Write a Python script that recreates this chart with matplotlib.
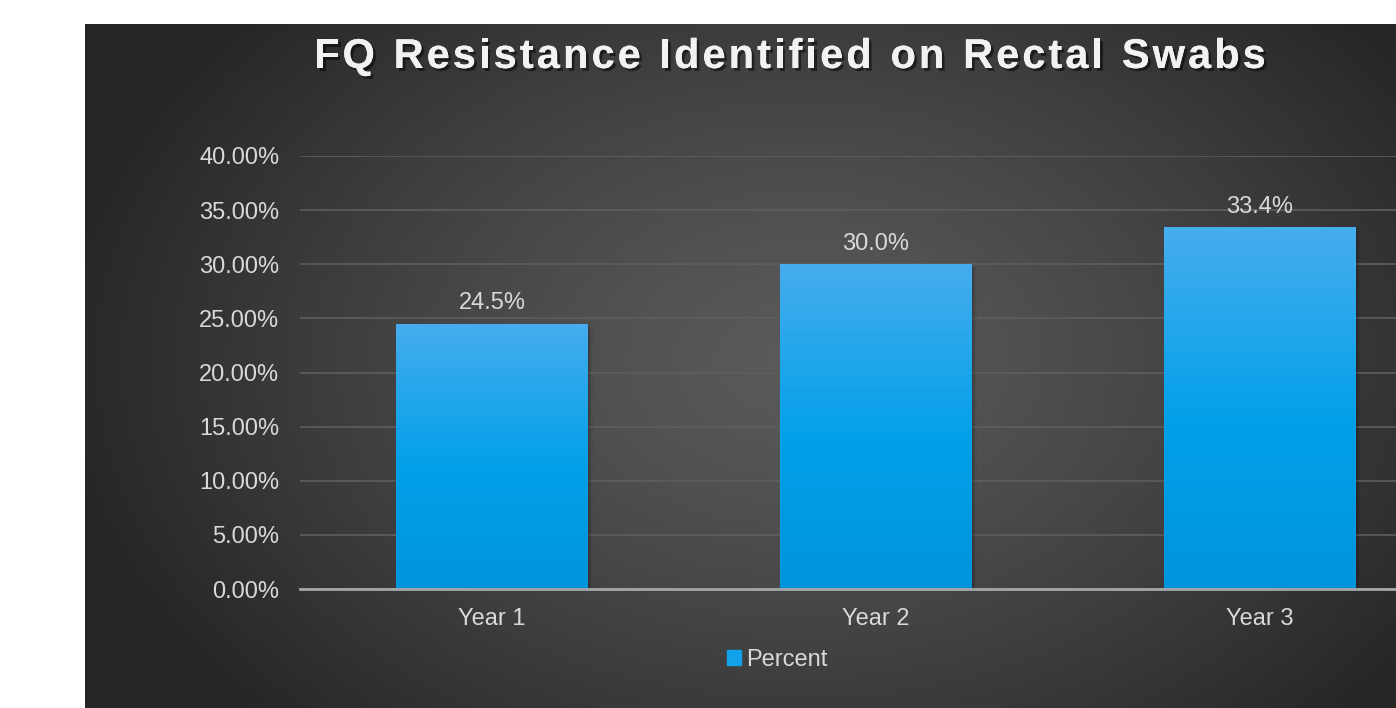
import numpy as np
import matplotlib.pyplot as plt
import matplotlib.patheffects as pe
from matplotlib.colors import LinearSegmentedColormap
from matplotlib.patches import Rectangle

# data
years = ['Year 1', 'Year 2', 'Year 3']
percent = [24.5, 30.0, 33.4]
yticks = [0, 5, 10, 15, 20, 25, 30, 35, 40]
title = 'FQ Resistance Identified on Rectal Swabs'

W, H = 1396, 708
fig = plt.figure(figsize=(W / 100, H / 100), dpi=100)
fig.patch.set_facecolor('white')
plt.rcParams['font.family'] = ['Liberation Sans', 'DejaVu Sans']

# dark panel with radial gradient
bg = fig.add_axes([85 / W, 0, (W - 85) / W, (H - 24) / H])
bg.set_axis_off()
xx, yy = np.meshgrid(np.linspace(85, 1496, 400), np.linspace(24, 708, 200))
r = np.sqrt(((xx - 800) / 750) ** 2 + ((yy - 360) / 520) ** 2)
r = np.clip(r, 0, 1)
grey = 0x5a / 255 - (0x5a - 0x26) / 255 * r ** 1.3
bg.imshow(np.dstack([grey, grey, grey]), extent=[85, 1496, 708, 24], aspect='auto')
bg.set_xlim(85, 1396)
bg.set_ylim(708, 24)

# plot area (right side runs off the picture)
ax = fig.add_axes([300 / W, 1 - 589 / H, 1152 / W, 433 / H])
ax.patch.set_alpha(0)
x = np.arange(len(years))

bars = ax.bar(x, percent, width=0.5, color='#0aa0ea', zorder=3)

# shadows behind bars
for b in bars:
    for k, a in enumerate([0.10, 0.07, 0.04]):
        sh = Rectangle((b.get_x() + 0.004 * (k + 1), 0), b.get_width(),
                       b.get_height() - 0.15 * (k + 1), color='black',
                       alpha=a, zorder=2, lw=0)
        ax.add_patch(sh)

cmap = LinearSegmentedColormap.from_list(
    'bar', [(0, '#0094dc'), (0.45, '#00a0e9'), (1, '#46adee')])
grad = np.linspace(0, 1, 256).reshape(-1, 1)
for b in bars:
    b.set_facecolor('none')
    im = ax.imshow(grad, cmap=cmap, origin='lower', aspect='auto',
                   extent=[b.get_x(), b.get_x() + b.get_width(), 0, b.get_height()],
                   zorder=3)
    im.set_clip_path(b)
ax.set_xlim(-0.5, len(years) - 0.5)
ax.set_ylim(0, 40)

for xi, v in zip(x, percent):
    ax.annotate(f'{v:.1f}%', (xi, v), xytext=(0, 7), textcoords='offset points',
                ha='center', va='bottom', color='#d9d9d9', fontsize=17)

ax.set_yticks(yticks)
ax.set_yticklabels([f'{t:.2f}%' for t in yticks])
ax.set_xticks(x)
ax.set_xticklabels(years)
ax.tick_params(axis='both', length=0, colors='#d9d9d9', labelsize=17)
ax.tick_params(axis='y', pad=15)
ax.tick_params(axis='x', pad=14)
ax.grid(axis='y', color='#5e5e5e', lw=1.2, zorder=1)
for s in ['top', 'right', 'left']:
    ax.spines[s].set_visible(False)
ax.spines['bottom'].set_color('#a6a6a6')
ax.spines['bottom'].set_linewidth(2)
ax.spines['bottom'].set_zorder(4)

# legend
handle = Rectangle((0, 0), 1, 1, color='#12a2ea')
fig.legend([handle], ['Percent'], loc='center', bbox_to_anchor=(777 / W, 1 - 660 / H),
           frameon=False, handlelength=0.6, handleheight=0.6, handletextpad=0.2,
           labelcolor='#d9d9d9', fontsize=17)

# title with letter spacing, drawn char by char
renderer = fig.canvas.get_renderer()
tprops = dict(color='#f2f2f2', fontsize=30, fontweight='bold', va='center',
              path_effects=[pe.withSimplePatchShadow(offset=(2, -2), shadow_rgbFace='black', alpha=0.5),
                            pe.Normal()])
spacing = 3.0
widths = []
for ch in title:
    t = fig.text(0, 0, ch if ch != ' ' else 'n', **tprops)
    w = t.get_window_extent(renderer).width
    if ch == ' ':
        w = w * 0.5
    widths.append(w)
    t.remove()
total = sum(widths) + spacing * (len(title) - 1)
xpos = 790 - total / 2
for ch, w in zip(title, widths):
    if ch != ' ':
        fig.text(xpos / W, 1 - 57 / H, ch, ha='left', **tprops)
    xpos += w + spacing

fig.savefig('out.png', dpi=100, facecolor='white')
